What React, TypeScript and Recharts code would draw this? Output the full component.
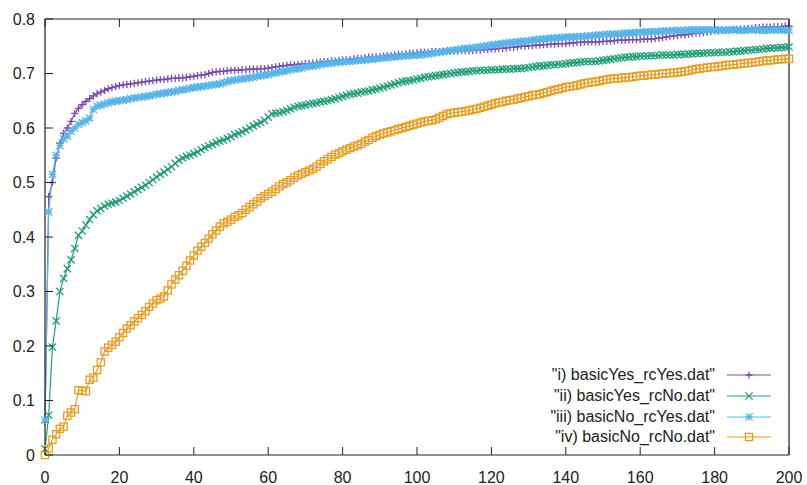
import { LineChart, Line, XAxis, YAxis, Legend } from "recharts";

const FONT = "'Liberation Sans', Arial, sans-serif";
const INK = "#222";

// x = 0..200, one sample per step
const basicYesRcYes = [
  0.06, 0.474, 0.5, 0.545, 0.572, 0.59, 0.6, 0.612, 0.627, 0.636,
  0.643, 0.649, 0.654, 0.659, 0.663, 0.666, 0.669, 0.672, 0.674, 0.676,
  0.678, 0.679, 0.68, 0.681, 0.682, 0.683, 0.684, 0.685, 0.686, 0.687,
  0.688, 0.689, 0.689, 0.69, 0.691, 0.691, 0.692, 0.692, 0.693, 0.694,
  0.695, 0.696, 0.697, 0.698, 0.7, 0.702, 0.703, 0.704, 0.704, 0.705,
  0.706, 0.706, 0.706, 0.707, 0.707, 0.708, 0.708, 0.708, 0.709, 0.709,
  0.71, 0.711, 0.712, 0.713, 0.714, 0.715, 0.716, 0.716, 0.717, 0.717,
  0.718, 0.718, 0.719, 0.72, 0.721, 0.722, 0.722, 0.723, 0.723, 0.724,
  0.725, 0.725, 0.726, 0.727, 0.728, 0.728, 0.729, 0.73, 0.73, 0.731,
  0.731, 0.732, 0.733, 0.733, 0.734, 0.735, 0.735, 0.736, 0.737, 0.737,
  0.738, 0.739, 0.739, 0.739, 0.74, 0.74, 0.74, 0.74, 0.741, 0.741,
  0.741, 0.741, 0.742, 0.742, 0.742, 0.742, 0.743, 0.743, 0.744, 0.744,
  0.745, 0.745, 0.746, 0.746, 0.747, 0.748, 0.748, 0.749, 0.75, 0.75,
  0.751, 0.751, 0.752, 0.752, 0.753, 0.753, 0.754, 0.754, 0.755, 0.755,
  0.755, 0.756, 0.756, 0.757, 0.757, 0.758, 0.758, 0.758, 0.758, 0.758,
  0.759, 0.759, 0.76, 0.76, 0.761, 0.761, 0.761, 0.762, 0.762, 0.762,
  0.762, 0.763, 0.763, 0.763, 0.764, 0.765, 0.766, 0.767, 0.768, 0.769,
  0.77, 0.771, 0.771, 0.772, 0.773, 0.774, 0.774, 0.775, 0.776, 0.777,
  0.778, 0.778, 0.779, 0.78, 0.78, 0.781, 0.781, 0.782, 0.782, 0.783,
  0.783, 0.784, 0.784, 0.785, 0.785, 0.785, 0.786, 0.786, 0.786, 0.787,
  0.787,
];

const basicYesRcNo = [
  0.011, 0.073, 0.198, 0.246, 0.3, 0.324, 0.342, 0.358, 0.379, 0.403,
  0.411, 0.422, 0.432, 0.441, 0.448, 0.452, 0.457, 0.46, 0.462, 0.464,
  0.467, 0.471, 0.475, 0.479, 0.483, 0.487, 0.491, 0.495, 0.5, 0.505,
  0.51, 0.515, 0.519, 0.524, 0.529, 0.535, 0.541, 0.545, 0.548, 0.55,
  0.553, 0.556, 0.56, 0.564, 0.567, 0.57, 0.573, 0.576, 0.578, 0.581,
  0.584, 0.588, 0.59, 0.593, 0.596, 0.6, 0.604, 0.607, 0.61, 0.614,
  0.62, 0.626, 0.627, 0.628, 0.63, 0.632, 0.635, 0.638, 0.64, 0.641,
  0.642, 0.644, 0.645, 0.646, 0.648, 0.649, 0.65, 0.652, 0.654, 0.656,
  0.658, 0.66, 0.662, 0.663, 0.664, 0.666, 0.667, 0.668, 0.67, 0.671,
  0.673, 0.675, 0.677, 0.679, 0.681, 0.683, 0.685, 0.686, 0.687, 0.688,
  0.69, 0.691, 0.693, 0.694, 0.695, 0.696, 0.697, 0.698, 0.699, 0.7,
  0.701, 0.702, 0.703, 0.703, 0.704, 0.705, 0.705, 0.706, 0.706, 0.706,
  0.707, 0.707, 0.707, 0.708, 0.708, 0.708, 0.709, 0.709, 0.709, 0.71,
  0.711, 0.712, 0.713, 0.714, 0.714, 0.715, 0.716, 0.716, 0.717, 0.717,
  0.718, 0.719, 0.72, 0.72, 0.721, 0.722, 0.722, 0.722, 0.722, 0.723,
  0.724, 0.725, 0.726, 0.727, 0.728, 0.729, 0.73, 0.73, 0.731, 0.731,
  0.732, 0.732, 0.732, 0.733, 0.733, 0.733, 0.734, 0.734, 0.734, 0.734,
  0.735, 0.735, 0.735, 0.736, 0.736, 0.737, 0.737, 0.737, 0.738, 0.738,
  0.738, 0.739, 0.739, 0.739, 0.74, 0.74, 0.741, 0.741, 0.742, 0.743,
  0.743, 0.744, 0.744, 0.745, 0.746, 0.746, 0.747, 0.747, 0.748, 0.748,
  0.749,
];

const basicNoRcYes = [
  0.064, 0.446, 0.515, 0.55, 0.568, 0.58, 0.585, 0.594, 0.6, 0.607,
  0.61, 0.613, 0.618, 0.634, 0.64, 0.642, 0.644, 0.646, 0.648, 0.649,
  0.65, 0.651, 0.652, 0.654, 0.655, 0.656, 0.657, 0.658, 0.659, 0.66,
  0.662, 0.663, 0.664, 0.665, 0.666, 0.667, 0.669, 0.67, 0.671, 0.673,
  0.674, 0.675, 0.676, 0.677, 0.678, 0.679, 0.68, 0.681, 0.683, 0.685,
  0.687, 0.688, 0.689, 0.69, 0.691, 0.692, 0.693, 0.695, 0.696, 0.697,
  0.698, 0.7, 0.701, 0.703, 0.704, 0.705, 0.707, 0.708, 0.709, 0.71,
  0.712, 0.713, 0.714, 0.715, 0.716, 0.718, 0.718, 0.719, 0.72, 0.721,
  0.721, 0.722, 0.722, 0.723, 0.724, 0.724, 0.725, 0.726, 0.726, 0.727,
  0.728, 0.729, 0.729, 0.73, 0.731, 0.731, 0.732, 0.732, 0.733, 0.733,
  0.734, 0.734, 0.735, 0.736, 0.737, 0.738, 0.739, 0.74, 0.741, 0.742,
  0.743, 0.744, 0.745, 0.746, 0.746, 0.747, 0.748, 0.749, 0.75, 0.751,
  0.752, 0.753, 0.754, 0.755, 0.756, 0.757, 0.757, 0.758, 0.759, 0.759,
  0.76, 0.761, 0.762, 0.763, 0.763, 0.764, 0.765, 0.765, 0.766, 0.766,
  0.767, 0.767, 0.767, 0.768, 0.768, 0.768, 0.769, 0.769, 0.77, 0.771,
  0.771, 0.772, 0.772, 0.772, 0.773, 0.773, 0.774, 0.774, 0.775, 0.775,
  0.776, 0.776, 0.776, 0.777, 0.777, 0.777, 0.778, 0.778, 0.778, 0.779,
  0.779, 0.779, 0.779, 0.78, 0.78, 0.78, 0.78, 0.78, 0.78, 0.78,
  0.78, 0.78, 0.779, 0.779, 0.78, 0.78, 0.78, 0.779, 0.779, 0.78,
  0.78, 0.78, 0.78, 0.779, 0.779, 0.78, 0.78, 0.78, 0.78, 0.779,
  0.779,
];

const basicNoRcNo = [
  0.0, 0.012, 0.028, 0.038, 0.048, 0.052, 0.072, 0.078, 0.084, 0.119,
  0.118, 0.117, 0.138, 0.142, 0.156, 0.17, 0.19, 0.197, 0.202, 0.208,
  0.216, 0.224, 0.232, 0.238, 0.245, 0.251, 0.257, 0.264, 0.272, 0.278,
  0.284, 0.287, 0.291, 0.302, 0.313, 0.322, 0.33, 0.338, 0.347, 0.357,
  0.366, 0.375, 0.382, 0.389, 0.397, 0.405, 0.412, 0.419, 0.425, 0.428,
  0.432, 0.437, 0.44, 0.444, 0.45, 0.455, 0.46, 0.465, 0.471, 0.475,
  0.479, 0.483, 0.488, 0.493, 0.497, 0.5, 0.504, 0.509, 0.513, 0.516,
  0.519, 0.522, 0.525, 0.529, 0.534, 0.539, 0.543, 0.547, 0.551, 0.554,
  0.557, 0.56, 0.563, 0.566, 0.568, 0.571, 0.575, 0.578, 0.582, 0.585,
  0.588, 0.59, 0.592, 0.594, 0.596, 0.598, 0.6, 0.602, 0.604, 0.606,
  0.608, 0.61, 0.612, 0.613, 0.614, 0.616, 0.619, 0.622, 0.625, 0.627,
  0.628, 0.629, 0.63, 0.631, 0.632, 0.634, 0.635, 0.637, 0.639, 0.641,
  0.643, 0.645, 0.647, 0.648, 0.65, 0.651, 0.652, 0.654, 0.655, 0.657,
  0.658, 0.66, 0.661, 0.662, 0.664, 0.666, 0.668, 0.67, 0.671, 0.673,
  0.675, 0.676, 0.677, 0.678, 0.68, 0.682, 0.683, 0.684, 0.685, 0.686,
  0.688, 0.689, 0.69, 0.691, 0.691, 0.692, 0.693, 0.693, 0.694, 0.695,
  0.696, 0.696, 0.697, 0.698, 0.698, 0.699, 0.7, 0.7, 0.701, 0.701,
  0.702, 0.703, 0.704, 0.705, 0.707, 0.708, 0.709, 0.71, 0.711, 0.712,
  0.712, 0.713, 0.714, 0.715, 0.716, 0.716, 0.717, 0.718, 0.719, 0.719,
  0.72, 0.721, 0.722, 0.723, 0.724, 0.724, 0.725, 0.726, 0.726, 0.727,
  0.727,
];

const xTicks = [0, 20, 40, 60, 80, 100, 120, 140, 160, 180, 200];
const yTicks = [0, 0.1, 0.2, 0.3, 0.4, 0.5, 0.6, 0.7, 0.8];

const series = [
  { key: "i", name: '"i) basicYes_rcYes.dat"', color: "#7b4ab0", marker: "plus" },
  { key: "ii", name: '"ii) basicYes_rcNo.dat"', color: "#1f9e77", marker: "cross" },
  { key: "iii", name: '"iii) basicNo_rcYes.dat"', color: "#56b4e9", marker: "star" },
  { key: "iv", name: '"iv) basicNo_rcNo.dat"', color: "#e69f22", marker: "square" },
];

const data = basicYesRcYes.map((v, idx) => ({
  x: idx,
  i: v,
  ii: basicYesRcNo[idx],
  iii: basicNoRcYes[idx],
  iv: basicNoRcNo[idx],
}));

const S = 3.6;

function Marker({ shape, cx, cy, color }: any) {
  if (cx == null || cy == null) return null;
  const p = { stroke: color, strokeWidth: 1.3, fill: "none" };
  if (shape === "square") {
    return <rect x={cx - S} y={cy - S} width={S * 2} height={S * 2} {...p} />;
  }
  const plus = `M${cx - S},${cy}H${cx + S}M${cx},${cy - S}V${cy + S}`;
  const cross = `M${cx - S},${cy - S}L${cx + S},${cy + S}M${cx - S},${cy + S}L${cx + S},${cy - S}`;
  const d = shape === "plus" ? plus : shape === "cross" ? cross : plus + cross;
  return <path d={d} {...p} />;
}

const TICK_LEN = 8;

// axes are 1px thick, so the tick anchor sits on the frame line
const BottomTick = ({ x, y, payload }: any) => (
  <g>
    <line x1={x} x2={x} y1={y} y2={y - TICK_LEN} stroke={INK} />
    <text x={x} y={y + 28} textAnchor="middle" fill={INK} fontSize={16} fontFamily={FONT}>
      {payload.value}
    </text>
  </g>
);

const TopTick = ({ x, y }: any) => (
  <line x1={x} x2={x} y1={y} y2={y + TICK_LEN} stroke={INK} />
);

const LeftTick = ({ x, y, payload }: any) => (
  <g>
    <line x1={x} x2={x + TICK_LEN} y1={y} y2={y} stroke={INK} />
    <text x={x - 10} y={y + 5.5} textAnchor="end" fill={INK} fontSize={16} fontFamily={FONT}>
      {payload.value}
    </text>
  </g>
);

const RightTick = ({ x, y }: any) => (
  <line x1={x} x2={x - TICK_LEN} y1={y} y2={y} stroke={INK} />
);

const LegendBox = () => (
  <div style={{ fontFamily: FONT, fontSize: 16, color: INK }}>
    {series.map((s) => (
      <div key={s.key} style={{ display: "flex", alignItems: "center", height: 20.8 }}>
        <span style={{ width: 215, textAlign: "right", whiteSpace: "nowrap" }}>{s.name}</span>
        <svg width={46} height={20} style={{ marginLeft: 12 }}>
          <line x1={0} x2={44} y1={10} y2={10} stroke={s.color} strokeWidth={1.2} />
          <Marker shape={s.marker} cx={22} cy={10} color={s.color} />
        </svg>
      </div>
    ))}
  </div>
);

export default function App() {
  return (
    <div style={{ position: "absolute", left: 0, top: 0, width: 807, height: 485, background: "#fff" }}>
      <LineChart
        width={807}
        height={485}
        data={data}
        margin={{ top: 18, right: 17, bottom: 29, left: 44 }}
        style={{ fontFamily: FONT }}
      >
        <XAxis
          dataKey="x"
          type="number"
          domain={[0, 200]}
          ticks={xTicks}
          interval={0}
          height={1}
          tickSize={0}
          tickMargin={0}
          tick={BottomTick}
          tickLine={false}
          axisLine={{ stroke: INK, strokeWidth: 1.2 }}
        />
        <XAxis
          xAxisId="top"
          orientation="top"
          type="number"
          domain={[0, 200]}
          ticks={xTicks}
          interval={0}
          height={1}
          tickSize={0}
          tickMargin={0}
          tick={TopTick}
          tickLine={false}
          axisLine={{ stroke: INK, strokeWidth: 1.2 }}
        />
        <YAxis
          type="number"
          domain={[0, 0.8]}
          ticks={yTicks}
          interval={0}
          width={1}
          tickSize={0}
          tickMargin={0}
          tick={LeftTick}
          tickLine={false}
          axisLine={{ stroke: INK, strokeWidth: 1.2 }}
        />
        <YAxis
          yAxisId="right"
          orientation="right"
          type="number"
          domain={[0, 0.8]}
          ticks={yTicks}
          interval={0}
          width={1}
          tickSize={0}
          tickMargin={0}
          tick={RightTick}
          tickLine={false}
          axisLine={{ stroke: INK, strokeWidth: 1.2 }}
        />
        <Legend
          layout="vertical"
          align="center"
          verticalAlign="middle"
          wrapperStyle={{ left: 500, top: 364.6, width: 300 }}
          content={LegendBox}
        />
        {series.map((s) => (
          <Line
            key={s.key}
            type="linear"
            dataKey={s.key}
            name={s.name}
            stroke={s.color}
            strokeWidth={1.2}
            isAnimationActive={false}
            activeDot={false}
            dot={(p: any) => (
              <Marker key={`${s.key}-${p.index}`} shape={s.marker} cx={p.cx} cy={p.cy} color={s.color} />
            )}
          />
        ))}
      </LineChart>
    </div>
  );
}
